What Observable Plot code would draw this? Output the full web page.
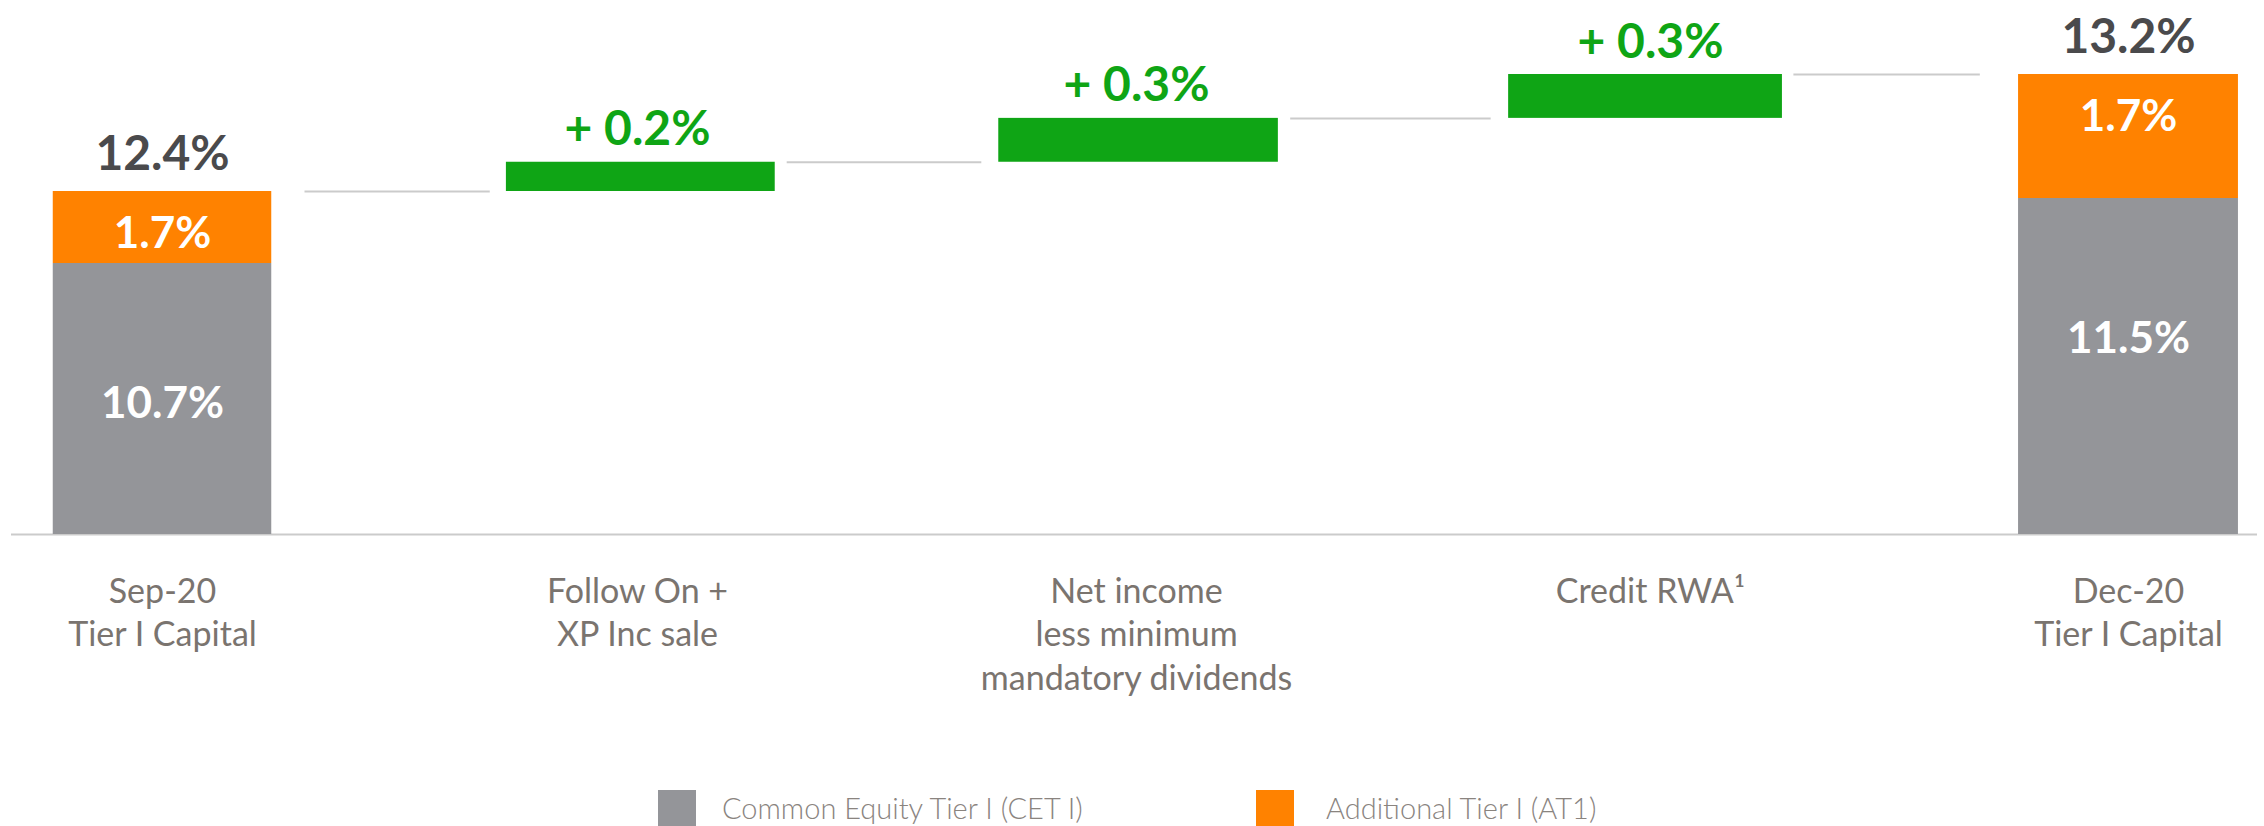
<!DOCTYPE html>
<html>
<head>
<meta charset="utf-8">
<script src="https://cdn.jsdelivr.net/npm/d3@7"></script>
<script src="https://cdn.jsdelivr.net/npm/@observablehq/plot@0.6"></script>
<style>
  html, body { margin: 0; padding: 0; background: #fff; overflow: hidden; }
  #wrap { width: 2264px; height: 826px; position: relative; overflow: hidden; font-family: Lato, "Open Sans", sans-serif; }
  #legend { position: absolute; top: 790px; left: 0; width: 2264px; height: 36px; }
  .item { position: absolute; top: 0; display: flex; align-items: flex-start; }
  .sw { width: 38px; height: 40px; }
  .lt { font-size: 29px; line-height: 36px; color: #8a847f; font-weight: 300; white-space: nowrap; }
</style>
</head>
<body>
<div id="wrap">
  <div id="chart"></div>
  <div id="legend"></div>
</div>
<script>
// ---- data ----
const categories = ["Sep-20\nTier I Capital", "Follow On +\nXP Inc sale", "Net income\nless minimum\nmandatory dividends", "Credit RWA¹", "Dec-20\nTier I Capital"];
const totalIndex = [0, 4];            // positions of the two stacked total bars
const cetValues = [10.7, 11.5];       // Common Equity Tier I
const at1Values = [1.7, 1.7];         // Additional Tier I
const stepIndex = [1, 2, 3];          // positions of the waterfall steps
const stepValues = [0.2, 0.3, 0.3];
const seriesNames = ["Common Equity Tier I (CET I)", "Additional Tier I (AT1)"];
const colors = {cet: "#949599", at1: "#FF8200", step: "#0FA515", total: "#4A4A4C", axis: "#7A746F", rule: "#CBCBCB"};

// ---- derived tables ----
const totals = totalIndex.map((i, k) => ({i, cet: cetValues[k], at1: at1Values[k], total: +(cetValues[k] + at1Values[k]).toFixed(1)}));
let cum = totals[0].total;
const steps = stepIndex.map((i, k) => { const start = cum; cum = +(cum + stepValues[k]).toFixed(1); return {i, start, end: cum, v: stepValues[k]}; });
const connectors = [{i: 0, level: totals[0].total}, ...steps.map(s => ({i: s.i, level: s.end}))];
const cats = categories.map((c, i) => ({i, c}));

const hT = 0.23, hS = 0.276;   // half widths (index units)
const valueFont = {fontSize: 48, fontWeight: 700};

const chart = Plot.plot({
  width: 2264,
  height: 790,
  marginLeft: 162,
  marginRight: 136,
  marginTop: 0,
  marginBottom: 0,
  style: {fontFamily: "Lato, 'Open Sans', sans-serif", background: "#fff"},
  x: {type: "linear", domain: [0, 1, 2, 3, 4], range: [162, 637, 1136, 1650, 2128], axis: null},
  y: {type: "linear", domain: [0, 10.7, 11.5, 12.4, 13.2], range: [534, 263, 198, 191, 74], axis: null},
  marks: [
    Plot.ruleY([0], {stroke: colors.rule, strokeWidth: 2, insetLeft: -151, insetRight: -129}),
    // connectors
    Plot.ruleY(connectors, {x1: d => d.i + 0.30, x2: d => d.i + 0.69, y: "level", stroke: colors.rule, strokeWidth: 2}),
    // stacked totals
    Plot.rectY(totals, {x1: d => d.i - hT, x2: d => d.i + hT, y1: 0, y2: "cet", fill: colors.cet}),
    Plot.rectY(totals, {x1: d => d.i - hT, x2: d => d.i + hT, y1: "cet", y2: "total", fill: colors.at1}),
    // waterfall steps
    Plot.rectY(steps, {x1: d => d.i - hS, x2: d => d.i + hS, y1: "start", y2: "end", fill: colors.step}),
    // labels
    Plot.text(totals, {x: "i", y: "total", text: d => d.total.toFixed(1) + "%", lineAnchor: "bottom", dy: -22, fill: colors.total, ...valueFont}),
    Plot.text(steps, {x: "i", y: "end", text: d => "+ " + d.v.toFixed(1) + "%", lineAnchor: "bottom", dy: -17, fill: colors.step, ...valueFont}),
    Plot.text(totals, {x: "i", y: "total", text: d => d.at1.toFixed(1) + "%", lineAnchor: "middle", dy: 42, fill: "#fff", fontSize: 44, fontWeight: 700}),
    Plot.text(totals, {x: "i", y: "cet", text: d => d.cet.toFixed(1) + "%", lineAnchor: "middle", dy: 140, fill: "#fff", fontSize: 44, fontWeight: 700}),
    // category labels
    Plot.text(cats, {x: "i", y: () => 0, text: "c", lineAnchor: "top", dy: 38, fontSize: 34, lineHeight: 1.27, fill: colors.axis})
  ]
});
document.getElementById("chart").appendChild(chart);

// legend
const legend = document.getElementById("legend");
const legendItems = [
  {name: seriesNames[0], color: colors.cet, left: 658},
  {name: seriesNames[1], color: colors.at1, left: 1256}
];
legendItems.forEach((it, k) => {
  const d = document.createElement("div");
  d.className = "item";
  d.style.left = it.left + "px";
  d.innerHTML = `<div class="sw" style="background:${it.color}"></div><div class="lt" style="margin-left:${k === 0 ? 26 : 32}px">${it.name}</div>`;
  legend.appendChild(d);
});
</script>
</body>
</html>
